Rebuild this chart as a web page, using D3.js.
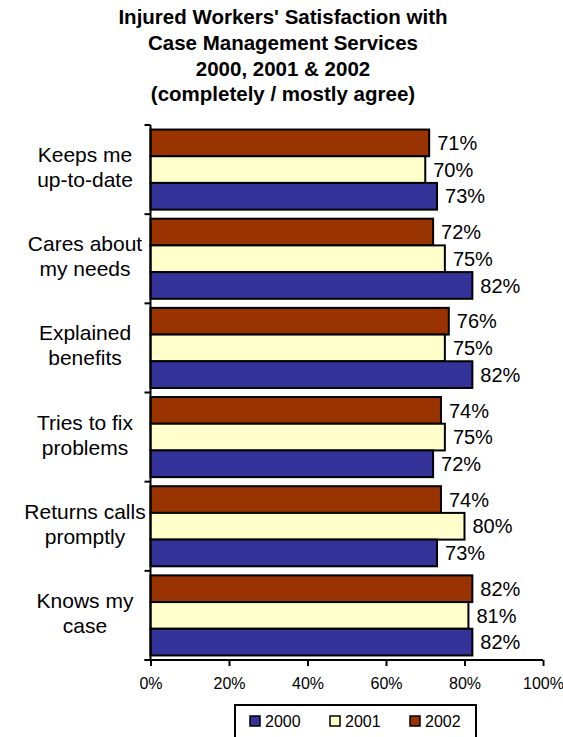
<!DOCTYPE html>
<html>
<head>
<meta charset="utf-8">
<script src="https://cdn.jsdelivr.net/npm/d3@7"></script>
<style>
  body { margin: 0; background: #fff; }
  svg { display: block; font-family: "Liberation Sans", Arial, sans-serif; }
</style>
</head>
<body>
<div id="chart"></div>
<script>
// chart data
const categories = [
  ['Keeps me', 'up-to-date'],
  ['Cares about', 'my needs'],
  ['Explained', 'benefits'],
  ['Tries to fix', 'problems'],
  ['Returns calls', 'promptly'],
  ['Knows my', 'case']
];
const years = ['2002', '2001', '2000']; // top to bottom inside a group
const values2000 = [73, 82, 82, 72, 73, 82];
const values2001 = [70, 75, 75, 75, 80, 81];
const values2002 = [71, 72, 76, 74, 74, 82];
const xTicks = [0, 20, 40, 60, 80, 100];
const titleLines = [
  "Injured Workers' Satisfaction with",
  'Case Management Services',
  '2000, 2001 & 2002',
  '(completely / mostly agree)'
];

const colors = { '2000': '#333399', '2001': '#FFFFCC', '2002': '#993300' };
const series = { '2000': values2000, '2001': values2001, '2002': values2002 };

const W = 563, H = 737;
const plotLeft = 150.5, plotRight = 543, plotTop = 125, plotBottom = 660;

const svg = d3.select('#chart').append('svg')
  .attr('width', W)
  .attr('height', H);

// title
svg.append('g').selectAll('text')
  .data(titleLines)
  .join('text')
  .attr('x', 283)
  .attr('y', (d, i) => 24 + i * 25.8)
  .attr('text-anchor', 'middle')
  .attr('font-size', 20.5)
  .attr('font-weight', 'bold')
  .text(d => d);

const x = d3.scaleLinear().domain([0, 100]).range([plotLeft, plotRight]);
const y = d3.scaleBand().domain(d3.range(categories.length)).range([plotTop, plotBottom]);
const inner = d3.scaleBand().domain(years).range([0, y.bandwidth()]).paddingOuter(0.17);

// bars
const groups = svg.append('g').selectAll('g')
  .data(categories)
  .join('g')
  .attr('transform', (d, i) => `translate(0,${y(i)})`);

groups.each(function(cat, i) {
  const g = d3.select(this);
  years.forEach(yr => {
    const v = series[yr][i];
    g.append('rect')
      .attr('x', x(0))
      .attr('y', inner(yr))
      .attr('width', x(v) - x(0))
      .attr('height', inner.bandwidth())
      .attr('fill', colors[yr])
      .attr('stroke', '#000')
      .attr('stroke-width', 2);
    g.append('text')
      .attr('x', x(v) + 8)
      .attr('y', inner(yr) + inner.bandwidth() / 2)
      .attr('dy', '0.36em')
      .attr('font-size', 20)
      .text(v + '%');
  });
});

// category labels
const labels = svg.append('g').selectAll('text')
  .data(categories)
  .join('text')
  .attr('x', 85)
  .attr('y', (d, i) => y(i) + y.bandwidth() / 2)
  .attr('text-anchor', 'middle')
  .attr('font-size', 21);
labels.each(function(lines) {
  const t = d3.select(this);
  lines.forEach((ln, j) => {
    t.append('tspan')
      .attr('x', 85)
      .attr('dy', j === 0 ? -7.5 : 25)
      .text(ln);
  });
});

// y axis line with ticks at band edges
const yAxis = svg.append('g');
yAxis.append('line')
  .attr('x1', plotLeft).attr('x2', plotLeft)
  .attr('y1', plotTop).attr('y2', plotBottom)
  .attr('stroke', '#000').attr('stroke-width', 2);
yAxis.selectAll('line.tick')
  .data(d3.range(categories.length + 1))
  .join('line')
  .attr('class', 'tick')
  .attr('x1', plotLeft - 6).attr('x2', plotLeft)
  .attr('y1', i => plotTop + i * y.step())
  .attr('y2', i => plotTop + i * y.step())
  .attr('stroke', '#000').attr('stroke-width', 2);

// x axis
const xAxis = svg.append('g')
  .attr('transform', `translate(0,${plotBottom})`)
  .call(d3.axisBottom(x).tickValues(xTicks).tickSize(6).tickPadding(12).tickFormat(d => d + '%'));
xAxis.select('.domain').attr('stroke-width', 2).attr('d', `M${plotLeft - 6},0H${plotRight}`);
xAxis.selectAll('.tick line').attr('stroke-width', 2);
xAxis.selectAll('.tick text')
  .attr('font-size', 16)
  .attr('font-family', '"Liberation Sans", Arial, sans-serif')
  .attr('fill', '#000');

// legend
const legend = svg.append('g').attr('transform', 'translate(235,705)');
legend.append('rect')
  .attr('x', 0).attr('y', 0)
  .attr('width', 241).attr('height', 40)
  .attr('fill', '#fff')
  .attr('stroke', '#000')
  .attr('stroke-width', 2);
const legendYears = ['2000', '2001', '2002'];
const li = legend.selectAll('g')
  .data(legendYears)
  .join('g')
  .attr('transform', (d, i) => `translate(${15 + i * 80},16)`);
li.append('rect')
  .attr('x', 0).attr('y', -5)
  .attr('width', 10).attr('height', 10)
  .attr('fill', d => colors[d])
  .attr('stroke', '#000')
  .attr('stroke-width', 1.5);
li.append('text')
  .attr('x', 15)
  .attr('y', 0)
  .attr('dy', '0.36em')
  .attr('font-size', 16)
  .text(d => d);
</script>
</body>
</html>
